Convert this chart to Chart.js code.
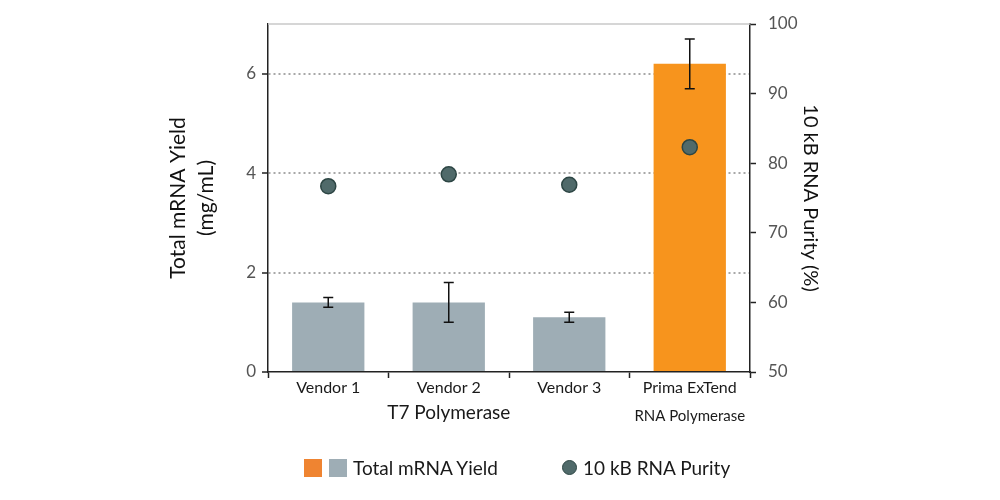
<!DOCTYPE html>
<html>
<head>
<meta charset="utf-8">
<script src="https://cdn.jsdelivr.net/npm/chart.js@4.4.1/dist/chart.umd.min.js"></script>
<style>
  html, body { margin: 0; padding: 0; background: #fff; }
  #wrap { position: relative; width: 1000px; height: 500px; }
  .lg { position: absolute; font-family: Lato, sans-serif; font-size: 19px; color: #1a1a1a; line-height: 20px; }
  .sw { position: absolute; width: 18px; height: 18px; }
  .dot { position: absolute; width: 15px; height: 15px; border-radius: 50%; box-sizing: border-box; border: 1.5px solid #2d4644; background: #506a6a; }
</style>
</head>
<body>
<div id="wrap">
  <canvas id="yieldChart" width="1000" height="500"></canvas>
  <div class="sw" style="left:304px;top:459px;background:#ef8431"></div>
  <div class="sw" style="left:329px;top:459px;background:#9eadb5"></div>
  <div class="lg" id="lg1" style="left:353px;top:458px"></div>
  <div class="dot" style="left:562px;top:460px"></div>
  <div class="lg" id="lg2" style="left:583px;top:458px"></div>
</div>
<script>
var vendors = ['Vendor 1', 'Vendor 2', 'Vendor 3', 'Prima ExTend'];
var groupLabels = ['', 'T7 Polymerase', '', 'RNA Polymerase'];
var yieldValues = [1.4, 1.4, 1.1, 6.2];
var yieldErrors = [0.1, 0.4, 0.1, 0.5];
var purityValues = [76.7, 78.4, 76.9, 82.3];
var seriesNames = ['Total mRNA Yield', '10 kB RNA Purity'];
var yieldTicks = [0, 2, 4, 6];

document.getElementById('lg1').textContent = seriesNames[0];
document.getElementById('lg2').textContent = seriesNames[1];

var barColors = ['#9eadb5', '#9eadb5', '#9eadb5', '#f7941d'];

// error bars, top frame line and the group captions under the axis
var extras = {
  id: 'extras',
  beforeDatasetsDraw: function(chart) {
    var ctx = chart.ctx, a = chart.chartArea;
    ctx.save();
    ctx.strokeStyle = '#c8c8c8';
    ctx.lineWidth = 1.5;
    ctx.beginPath();
    ctx.moveTo(a.left, a.top);
    ctx.lineTo(a.right, a.top);
    ctx.stroke();
    ctx.restore();
  },
  afterDatasetsDraw: function(chart) {
    var ctx = chart.ctx, x = chart.scales.x, y = chart.scales.y;
    ctx.save();
    ctx.strokeStyle = '#111';
    ctx.lineWidth = 1.5;
    yieldValues.forEach(function(v, i) {
      var cx = x.getPixelForValue(i);
      var t = y.getPixelForValue(v + yieldErrors[i]);
      var b = y.getPixelForValue(v - yieldErrors[i]);
      ctx.beginPath();
      ctx.moveTo(cx, t); ctx.lineTo(cx, b);
      ctx.moveTo(cx - 5, t); ctx.lineTo(cx + 5, t);
      ctx.moveTo(cx - 5, b); ctx.lineTo(cx + 5, b);
      ctx.stroke();
    });
    ctx.restore();
  },
  afterDraw: function(chart) {
    var ctx = chart.ctx, x = chart.scales.x;
    ctx.save();
    ctx.fillStyle = '#1a1a1a';
    ctx.textAlign = 'center';
    ctx.textBaseline = 'alphabetic';
    groupLabels.forEach(function(g, i) {
      if (!g) return;
      ctx.font = (i === 3 ? '15px' : '19px') + ' Lato';
      ctx.fillText(g, x.getPixelForValue(i), i === 3 ? 421 : 419);
    });
    ctx.restore();
  }
};

var ctx = document.getElementById('yieldChart');
var yieldChart = new Chart(ctx, {
  type: 'bar',
  data: {
    labels: vendors,
    datasets: [
      {
        type: 'line',
        label: seriesNames[1],
        data: purityValues,
        yAxisID: 'y2',
        showLine: false,
        pointRadius: 7.5,
        pointBackgroundColor: '#506a6a',
        pointBorderColor: '#2d4644',
        pointBorderWidth: 1.5,
        order: 0
      },
      {
        label: seriesNames[0],
        data: yieldValues,
        yAxisID: 'y',
        backgroundColor: barColors,
        barPercentage: 0.6,
        categoryPercentage: 1,
        order: 1
      }
    ]
  },
  options: {
    responsive: false,
    animation: false,
    layout: { padding: { left: 160, right: 174, top: 24, bottom: 68 } },
    plugins: {
      legend: { display: false },
      tooltip: { enabled: false }
    },
    scales: {
      x: {
        afterFit: function(s) { s.height = 60; },
        grid: { drawOnChartArea: false, offset: true, tickLength: 6, tickColor: '#222', tickWidth: 1.5 },
        border: { color: '#222', width: 1.5 },
        ticks: { color: '#1a1a1a', padding: 0, font: { family: 'Lato', size: 16 } }
      },
      y: {
        position: 'left',
        min: 0,
        max: 7,
        afterFit: function(s) { s.width = 108; },
        afterBuildTicks: function(s) {
          s.ticks = yieldTicks.map(function(v) { return { value: v }; });
        },
        grid: {
          color: function(c) { return c.tick && c.tick.value === 0 ? 'rgba(0,0,0,0)' : '#a8a8a8'; },
          lineWidth: 2,
          tickLength: 6,
          tickColor: '#222',
          tickWidth: 1.5,
          tickBorderDash: []
        },
        border: { color: '#222', width: 1.5, dash: [2, 3] },
        ticks: { color: '#555', padding: 6, font: { family: 'Lato', size: 17 } },
        title: {
          display: true,
          text: ['Total mRNA Yield', '(mg/mL)'],
          color: '#111',
          padding: 4,
          font: { family: 'Lato', size: 21, lineHeight: 1.35 }
        }
      },
      y2: {
        position: 'right',
        min: 50,
        max: 100,
        afterFit: function(s) { s.width = 76; },
        grid: { drawOnChartArea: false, tickLength: 6, tickColor: '#222', tickWidth: 1.5 },
        border: { color: '#222', width: 1.5 },
        ticks: { stepSize: 10, color: '#555', padding: 12, font: { family: 'Lato', size: 17 } },
        title: {
          display: true,
          text: '10 kB RNA Purity (%)',
          color: '#111',
          padding: 4,
          font: { family: 'Lato', size: 20 }
        }
      }
    }
  },
  plugins: [extras]
});
</script>
</body>
</html>
